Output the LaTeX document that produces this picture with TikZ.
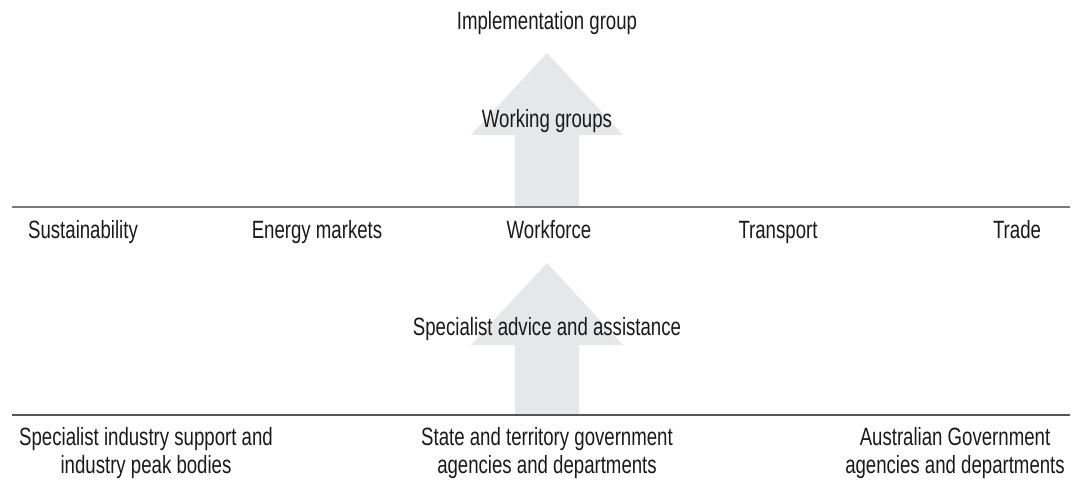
\documentclass[tikz,border=0pt]{standalone}
\usepackage{fontspec}
\setmainfont{Liberation Sans}[FakeStretch=0.745]
\usepackage{xcolor}
\usetikzlibrary{positioning}
\definecolor{aFill}{HTML}{E6E7E8}
\definecolor{rTop}{HTML}{7A7A7A}
\definecolor{rBot}{HTML}{555555}
\definecolor{tInk}{HTML}{1A1A1A}
\tikzset{
  lbl/.style={font=\fontsize{25}{28.5}\selectfont, text=tInk, inner sep=0pt, anchor=base, align=center}}

\begin{document}
\begin{tikzpicture}[x=1pt, y=-1pt]
  \useasboundingbox (0,0) rectangle (1077,489);
  % arrows behind the texts
  \fill[aFill] (515,207) -- (515,135) -- (471,135) -- (547,53) -- (623,135) -- (579,135) -- (579,207) -- cycle;
  \fill[aFill] (515,415) -- (515,345) -- (471,345) -- (547,263) -- (623,345) -- (579,345) -- (579,415) -- cycle;
  % rules
  \coordinate (t1) at (12,207);
  \coordinate (t2) at (1070,207);
  \coordinate (b1) at (12,415);
  \coordinate (b2) at (1070,415);
  \draw[rTop, line width=2pt] (t1) -- (t2);
  \draw[rBot, line width=1.6pt] (b1) -- (b2);
  % texts
  \node[lbl] (impl) at (547,30) {Implementation group};
  \node[lbl] (work) at (547,128) {Working groups};
  \node[lbl] (sust) at (83,239) {Sustainability};
  \node[lbl] (ener) at (317,239) {Energy markets};
  \node[lbl] (wfor) at (549,239) {Workforce};
  \node[lbl] (tran) at (778,239) {Transport};
  \node[lbl] (trad) at (1017,239) {Trade};
  \node[lbl] (advi) at (547,335) {Specialist advice and assistance};
  \node[lbl, anchor=north] (indu) at (146,427) {Specialist industry support and\\industry peak bodies};
  \node[lbl, anchor=north] (stat) at (547,427) {State and territory government\\agencies and departments};
  \node[lbl, anchor=north] (ausg) at (955,427) {Australian Government\\agencies and departments};
\end{tikzpicture}
\end{document}
